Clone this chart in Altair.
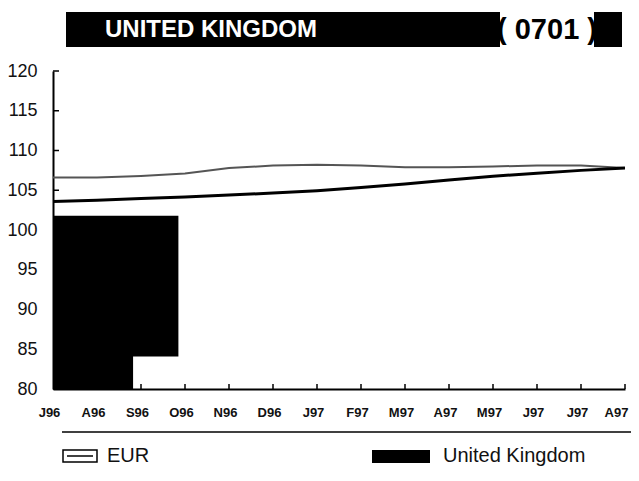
import json
import altair as alt
import pandas as pd

# ---- data ----
months = ["J96", "A96", "S96", "O96", "N96", "D96", "J97", "F97", "M97", "A97", "M97", "J97", "J97", "A97"]
eur = [106.6, 106.6, 106.8, 107.1, 107.8, 108.1, 108.2, 108.1, 107.9, 107.9, 108.0, 108.1, 108.1, 107.8]
uk = [103.6, 103.75, 103.95, 104.15, 104.4, 104.65, 104.95, 105.35, 105.8, 106.3, 106.75, 107.15, 107.5, 107.8]
y_ticks = [80, 85, 90, 95, 100, 105, 110, 115, 120]
series_names = ["EUR", "United Kingdom"]
# dark scan shading in the lower-left corner (in data units: month index / index value)
shade_x0 = [0, 0]
shade_x1 = [2.85, 1.82]
shade_y0 = [84.1, 80]
shade_y1 = [101.8, 84.4]
title_text = "UNITED KINGDOM"
code_text = "( 0701 )"

FONT = "Liberation Sans"
W, H = 572, 318
last = len(months) - 1

idx = list(range(len(months)))
df = pd.DataFrame({
    "idx": idx * 2,
    "value": eur + uk,
    "series": [series_names[0]] * len(idx) + [series_names[1]] * len(idx),
})
shade_df = pd.DataFrame({"x0": shade_x0, "x1": shade_x1, "y0": shade_y0, "y1": shade_y1})
ytick_df = pd.DataFrame({"v": y_ticks})
xtick_df = pd.DataFrame({"i": idx[1:]})

xs = alt.Scale(domain=[0, last], nice=False, zero=False)
ys = alt.Scale(domain=[80, 120], nice=False, zero=False)

label_expr = json.dumps(months) + "[datum.value]"

x_axis = alt.Axis(values=idx, labelExpr=label_expr, title=None, grid=False, ticks=False,
                  labelFontWeight="bold", labelFontSize=13, labelFont=FONT, labelColor="#111",
                  labelPadding=17,
                  labelOffset=alt.ExprRef(expr=f"datum.value == {last} ? -9 : -4"),
                  domainColor="black", domainWidth=2, labelFlush=False)
y_axis = alt.Axis(values=y_ticks, title=None, grid=False, ticks=False, labelFontSize=18,
                  labelFont=FONT, labelColor="#111", labelPadding=16,
                  domainColor="black", domainWidth=2)

shade = alt.Chart(shade_df).mark_rect(color="black").encode(
    x=alt.X("x0:Q", scale=xs, axis=x_axis), x2="x1:Q",
    y=alt.Y("y0:Q", scale=ys, axis=y_axis), y2="y1:Q",
)

eur_line = alt.Chart(df[df.series == "EUR"]).mark_line(color="#555", strokeWidth=2).encode(
    x=alt.X("idx:Q", scale=xs, axis=x_axis),
    y=alt.Y("value:Q", scale=ys, axis=y_axis),
)
uk_line = alt.Chart(df[df.series == "United Kingdom"]).mark_line(color="black", strokeWidth=3).encode(
    x=alt.X("idx:Q", scale=xs, axis=x_axis),
    y=alt.Y("value:Q", scale=ys, axis=y_axis),
)

ytick_rules = alt.Chart(ytick_df).mark_rule(color="black", strokeWidth=1.5).encode(
    y=alt.Y("v:Q", scale=ys, axis=y_axis), x=alt.value(0), x2=alt.value(6),
)
xtick_rules = alt.Chart(xtick_df).mark_rule(color="black", strokeWidth=1.5).encode(
    x=alt.X("i:Q", scale=xs, axis=x_axis), y=alt.value(H), y2=alt.value(H - 5),
)

one = alt.Data(values=[{"a": 1}])

title_bar = alt.Chart(one).mark_rect(color="black").encode(
    x=alt.value(13), x2=alt.value(447), y=alt.value(-59), y2=alt.value(-24))
title_block = alt.Chart(one).mark_rect(color="black").encode(
    x=alt.value(541), x2=alt.value(569), y=alt.value(-59), y2=alt.value(-24))
title_txt = alt.Chart(one).mark_text(color="white", font=FONT, fontSize=24, fontWeight="bold",
                                     align="center", baseline="middle").encode(
    x=alt.value(158), y=alt.value(-41), text=alt.value(title_text))
code_txt = alt.Chart(one).mark_text(color="black", font=FONT, fontSize=29, fontWeight="bold",
                                    align="center", baseline="middle").encode(
    x=alt.value(494), y=alt.value(-41), text=alt.value(code_text))

sep = alt.Chart(one).mark_rule(color="black", strokeWidth=1.5).encode(
    x=alt.value(9), x2=alt.value(600), y=alt.value(361))
eur_box = alt.Chart(one).mark_rect(fill="white", stroke="black", strokeWidth=1.5).encode(
    x=alt.value(10), x2=alt.value(44), y=alt.value(379), y2=alt.value(391))
eur_inner = alt.Chart(one).mark_rule(color="black", strokeWidth=1.5).encode(
    x=alt.value(14), x2=alt.value(40), y=alt.value(385))
eur_lab = alt.Chart(one).mark_text(color="#111", font=FONT, fontSize=20, align="left",
                                   baseline="middle").encode(
    x=alt.value(54), y=alt.value(385), text=alt.value(series_names[0]))
uk_box = alt.Chart(one).mark_rect(color="black").encode(
    x=alt.value(319), x2=alt.value(377), y=alt.value(379), y2=alt.value(392))
uk_lab = alt.Chart(one).mark_text(color="#111", font=FONT, fontSize=20, align="left",
                                  baseline="middle").encode(
    x=alt.value(390), y=alt.value(385), text=alt.value(series_names[1]))

chart = alt.layer(
    shade, eur_line, uk_line, ytick_rules, xtick_rules,
    title_bar, title_block, title_txt, code_txt,
    sep, eur_box, eur_inner, eur_lab, uk_box, uk_lab,
).properties(
    width=W, height=H,
    autosize=alt.AutoSizeParams(type="none"),
    padding={"left": 45, "top": 63, "right": 6, "bottom": 80},
).configure(background="white").configure_view(stroke=None)

chart.save("out.html", embed_options={"renderer": "svg", "actions": False})
